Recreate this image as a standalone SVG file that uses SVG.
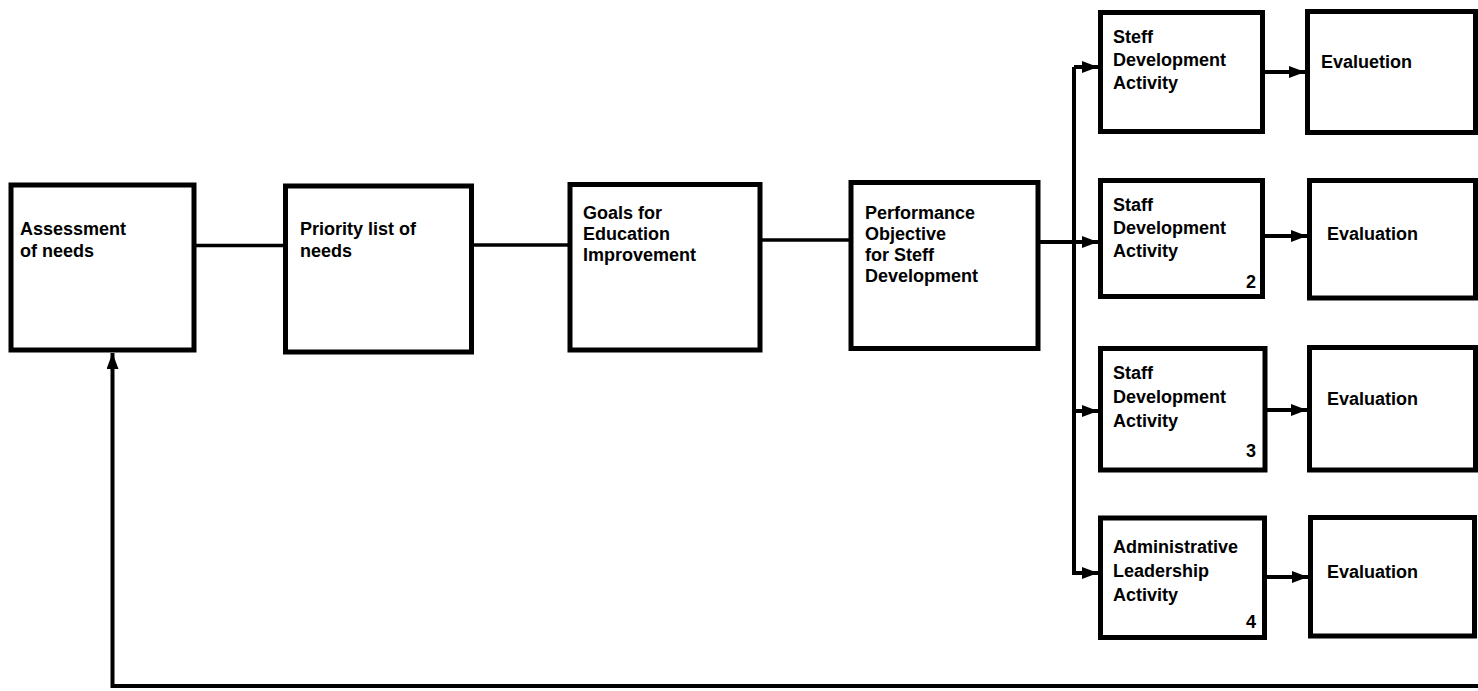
<svg xmlns="http://www.w3.org/2000/svg" width="1478" height="691" viewBox="0 0 1478 691">
<style>
.box{fill:#fff;stroke:#000;stroke-width:5}
.t{font-family:"Liberation Sans",Arial,Helvetica,sans-serif;font-weight:bold;font-size:18px;fill:#000}
.n{text-anchor:end}
.c{stroke:#000;stroke-width:3.5;fill:none}
.b{stroke:#000;stroke-width:4;fill:none}
</style>
<defs>
<marker id="ah" markerUnits="userSpaceOnUse" markerWidth="16" markerHeight="12" refX="16" refY="6" orient="auto">
<path d="M0,0 L16,6 L0,12 z" fill="#000"/>
</marker>
</defs>
<rect width="1478" height="691" fill="#fff"/>
<g id="connectors">
<path class="c" d="M196,245.5 H283"/>
<path class="c" d="M472,245 H568"/>
<path class="c" d="M762,240 H849"/>
<path class="b" d="M1040,242 H1074"/>
<path class="b" d="M1074,67 V575"/>
<path class="b" d="M1074,67 H1098" marker-end="url(#ah)"/>
<path class="b" d="M1074,242 H1098" marker-end="url(#ah)"/>
<path class="b" d="M1074,411 H1098" marker-end="url(#ah)"/>
<path class="b" d="M1072,573 H1098" marker-end="url(#ah)"/>
<path class="b" d="M1265,72 H1305" marker-end="url(#ah)"/>
<path class="b" d="M1265,236 H1307" marker-end="url(#ah)"/>
<path class="b" d="M1267,410 H1307" marker-end="url(#ah)"/>
<path class="b" d="M1267,577 H1308" marker-end="url(#ah)"/>
<path class="b" d="M1478,686 H112.5 V353" marker-end="url(#ah)"/>
</g>
<g id="assessment">
<rect class="box" x="11" y="185" width="183" height="165"/>
<text class="t"><tspan x="20" y="235">Assessment</tspan><tspan x="20" y="257">of needs</tspan></text>
</g>
<g id="priority">
<rect class="box" x="285.5" y="186" width="186" height="166"/>
<text class="t"><tspan x="300" y="235">Priority list of</tspan><tspan x="300" y="257">needs</tspan></text>
</g>
<g id="goals">
<rect class="box" x="570" y="184.5" width="190" height="165.5"/>
<text class="t"><tspan x="583" y="219">Goals for</tspan><tspan x="583" y="240">Education</tspan><tspan x="583" y="261">Improvement</tspan></text>
</g>
<g id="performance">
<rect class="box" x="851" y="182.5" width="187" height="166"/>
<text class="t"><tspan x="865" y="219">Performance</tspan><tspan x="865" y="240">Objective</tspan><tspan x="865" y="261">for Steff</tspan><tspan x="865" y="282">Development</tspan></text>
</g>
<g id="activity1">
<rect class="box" x="1100.5" y="12.5" width="162" height="119"/>
<text class="t"><tspan x="1113" y="43">Steff</tspan><tspan x="1113" y="66">Development</tspan><tspan x="1113" y="89">Activity</tspan></text>
</g>
<g id="evaluation1">
<rect class="box" x="1307.5" y="11.5" width="168" height="121"/>
<text class="t" x="1321" y="68">Evaluetion</text>
</g>
<g id="activity2">
<rect class="box" x="1100.5" y="180.5" width="162" height="116"/>
<text class="t"><tspan x="1113" y="211">Staff</tspan><tspan x="1113" y="234">Development</tspan><tspan x="1113" y="257">Activity</tspan></text>
<text class="t n" x="1256" y="288">2</text>
</g>
<g id="evaluation2">
<rect class="box" x="1309.5" y="180.5" width="166" height="117.5"/>
<text class="t" x="1327" y="240">Evaluation</text>
</g>
<g id="activity3">
<rect class="box" x="1100.5" y="348.5" width="164.5" height="121.5"/>
<text class="t"><tspan x="1113" y="379">Staff</tspan><tspan x="1113" y="403">Development</tspan><tspan x="1113" y="427">Activity</tspan></text>
<text class="t n" x="1256" y="457">3</text>
</g>
<g id="evaluation3">
<rect class="box" x="1309.5" y="347.5" width="166" height="122.5"/>
<text class="t" x="1327" y="405">Evaluation</text>
</g>
<g id="activity4">
<rect class="box" x="1100.5" y="518" width="164" height="119.5"/>
<text class="t"><tspan x="1113" y="553">Administrative</tspan><tspan x="1113" y="577">Leadership</tspan><tspan x="1113" y="601">Activity</tspan></text>
<text class="t n" x="1256" y="628">4</text>
</g>
<g id="evaluation4">
<rect class="box" x="1310.5" y="517.5" width="164" height="118.5"/>
<text class="t" x="1327" y="578">Evaluation</text>
</g>
</svg>
